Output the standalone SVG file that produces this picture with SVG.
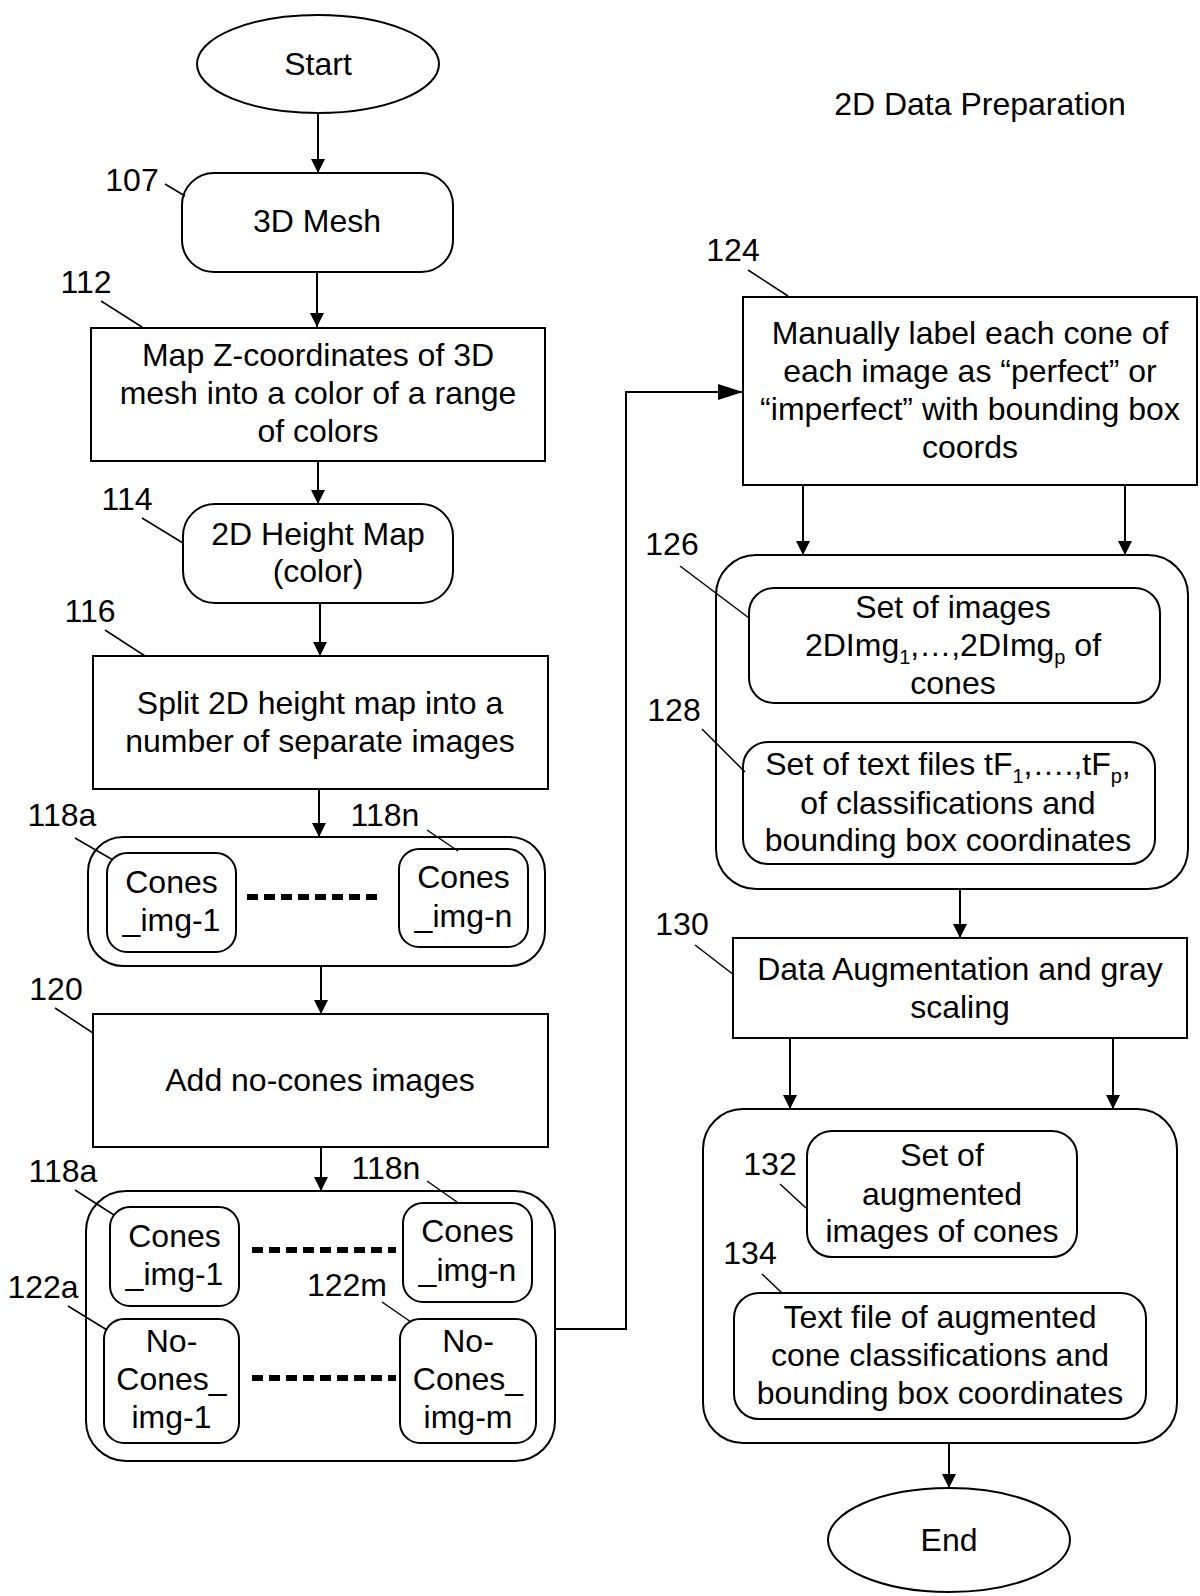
<svg xmlns="http://www.w3.org/2000/svg" width="1200" height="1596" viewBox="0 0 1200 1596">
<style>
.b{fill:#fff;stroke:#000;stroke-width:2}
.t{font-family:"Liberation Sans",Arial,sans-serif;font-size:32px;text-anchor:middle;fill:#000}
.s{font-size:20px}
.ld{stroke:#000;stroke-width:1.5;fill:none}
.c{stroke:#000;stroke-width:2;fill:none}
.dots{stroke:#000;stroke-width:6;stroke-dasharray:11 6;fill:none}
</style>
<defs>
<marker id="ah" markerUnits="userSpaceOnUse" markerWidth="14" markerHeight="14" refX="14" refY="7" orient="auto"><path d="M0,0 L14,7 L0,14 z" fill="#000"/></marker>
<marker id="ahl" markerUnits="userSpaceOnUse" markerWidth="25" markerHeight="16" refX="25" refY="8" orient="auto"><path d="M0,0 L25,8 L0,16 z" fill="#000"/></marker>
</defs>
<rect width="1200" height="1596" fill="#fff"/>
<text class="t" x="980" y="115">2D Data Preparation</text>

<g id="connectors">
<line class="c" x1="318" y1="113" x2="318" y2="173" marker-end="url(#ah)"/>
<line class="c" x1="317" y1="272" x2="317" y2="327" marker-end="url(#ah)"/>
<line class="c" x1="318" y1="461" x2="318" y2="504" marker-end="url(#ah)"/>
<line class="c" x1="320" y1="603" x2="320" y2="656" marker-end="url(#ah)"/>
<line class="c" x1="319" y1="789" x2="319" y2="837" marker-end="url(#ah)"/>
<line class="c" x1="321" y1="966" x2="321" y2="1014" marker-end="url(#ah)"/>
<line class="c" x1="321" y1="1147" x2="321" y2="1191" marker-end="url(#ah)"/>
<polyline class="c" points="555,1329 626,1329 626,392 743,392" marker-end="url(#ahl)"/>
<line class="c" x1="803" y1="485" x2="803" y2="555" marker-end="url(#ah)"/>
<line class="c" x1="1125" y1="485" x2="1125" y2="555" marker-end="url(#ah)"/>
<line class="c" x1="960" y1="889" x2="960" y2="938" marker-end="url(#ah)"/>
<line class="c" x1="790" y1="1038" x2="790" y2="1109" marker-end="url(#ah)"/>
<line class="c" x1="1113" y1="1038" x2="1113" y2="1109" marker-end="url(#ah)"/>
<line class="c" x1="949" y1="1443" x2="949" y2="1488" marker-end="url(#ah)"/>
</g>

<g id="start">
<ellipse class="b" cx="318" cy="64" rx="121" ry="49"/>
<text class="t" x="318" y="75">Start</text>
</g>

<g id="n107">
<rect class="b" x="182" y="173" width="271" height="99" rx="32"/>
<text class="t" x="317" y="232">3D Mesh</text>
<text class="t" x="132" y="191">107</text>
<line class="ld" x1="165" y1="184" x2="185" y2="196"/>
</g>

<g id="n112">
<rect class="b" x="91" y="328" width="454" height="133"/>
<text class="t" x="318" y="366">Map Z-coordinates of 3D</text>
<text class="t" x="318" y="404">mesh into a color of a range</text>
<text class="t" x="318" y="442">of colors</text>
<text class="t" x="86" y="293">112</text>
<line class="ld" x1="101" y1="301" x2="142" y2="327"/>
</g>

<g id="n114">
<rect class="b" x="183" y="504" width="270" height="99" rx="32"/>
<text class="t" x="318" y="545">2D Height Map</text>
<text class="t" x="318" y="582">(color)</text>
<text class="t" x="127" y="510">114</text>
<line class="ld" x1="142" y1="518" x2="183" y2="543"/>
</g>

<g id="n116">
<rect class="b" x="93" y="656" width="455" height="133"/>
<text class="t" x="320" y="714">Split 2D height map into a</text>
<text class="t" x="320" y="752">number of separate images</text>
<text class="t" x="90" y="622">116</text>
<line class="ld" x1="105" y1="630" x2="145" y2="656"/>
</g>

<g id="n118">
<rect class="b" x="88" y="837" width="457" height="129" rx="35"/>
<rect class="b" x="107" y="853" width="129" height="99" rx="20"/>
<text class="t" x="171.5" y="893">Cones</text>
<text class="t" x="171.5" y="931">_img-1</text>
<rect class="b" x="399" y="849" width="129" height="98" rx="20"/>
<text class="t" x="463.5" y="888">Cones</text>
<text class="t" x="463.5" y="927">_img-n</text>
<line class="dots" x1="247" y1="897" x2="378" y2="897"/>
<text class="t" x="62" y="826">118a</text>
<line class="ld" x1="75" y1="838" x2="113" y2="860"/>
<text class="t" x="385" y="826">118n</text>
<line class="ld" x1="427" y1="830" x2="458" y2="851"/>
</g>

<g id="n120">
<rect class="b" x="93" y="1014" width="455" height="133"/>
<text class="t" x="320" y="1091">Add no-cones images</text>
<text class="t" x="56" y="1000">120</text>
<line class="ld" x1="55" y1="1008" x2="93" y2="1033"/>
</g>

<g id="n122">
<rect class="b" x="86" y="1191" width="469" height="270" rx="40"/>
<rect class="b" x="110" y="1207" width="129" height="99" rx="20"/>
<text class="t" x="174.5" y="1247">Cones</text>
<text class="t" x="174.5" y="1285">_img-1</text>
<rect class="b" x="403" y="1203" width="129" height="99" rx="20"/>
<text class="t" x="467.5" y="1242">Cones</text>
<text class="t" x="467.5" y="1281">_img-n</text>
<rect class="b" x="104" y="1319" width="135" height="124" rx="20"/>
<text class="t" x="171.5" y="1352">No-</text>
<text class="t" x="171.5" y="1390">Cones_</text>
<text class="t" x="171.5" y="1428">img-1</text>
<rect class="b" x="400" y="1319" width="136" height="124" rx="20"/>
<text class="t" x="468" y="1352">No-</text>
<text class="t" x="468" y="1390">Cones_</text>
<text class="t" x="468" y="1428">img-m</text>
<line class="dots" x1="252" y1="1250" x2="396" y2="1250"/>
<line class="dots" x1="252" y1="1378" x2="396" y2="1378"/>
<text class="t" x="63" y="1182">118a</text>
<line class="ld" x1="75" y1="1190" x2="114" y2="1215"/>
<text class="t" x="386" y="1179">118n</text>
<line class="ld" x1="427" y1="1181" x2="457" y2="1202"/>
<text class="t" x="43" y="1298">122a</text>
<line class="ld" x1="68" y1="1306" x2="107" y2="1330"/>
<text class="t" x="347" y="1296">122m</text>
<line class="ld" x1="382" y1="1302" x2="411" y2="1322"/>
</g>

<g id="n124">
<rect class="b" x="743" y="297" width="454" height="188"/>
<text class="t" x="970" y="344">Manually label each cone of</text>
<text class="t" x="970" y="382">each image as “perfect” or</text>
<text class="t" x="970" y="420">“imperfect” with bounding box</text>
<text class="t" x="970" y="458">coords</text>
<text class="t" x="733" y="261">124</text>
<line class="ld" x1="748" y1="270" x2="788" y2="296"/>
</g>

<g id="n126">
<rect class="b" x="716" y="555" width="472" height="334" rx="40"/>
<rect class="b" x="749" y="588" width="411" height="115" rx="25"/>
<text class="t" x="953" y="618">Set of images</text>
<text class="t" x="953" y="656">2DImg<tspan class="s" dy="8">1</tspan><tspan dy="-8">,…,2DImg</tspan><tspan class="s" dy="8">p</tspan><tspan dy="-8"> of</tspan></text>
<text class="t" x="953" y="694">cones</text>
<rect class="b" x="743" y="742" width="412" height="122" rx="25"/>
<text class="t" x="948" y="775">Set of text files tF<tspan class="s" dy="8">1</tspan><tspan dy="-8">,….,tF</tspan><tspan class="s" dy="8">p</tspan><tspan dy="-8">,</tspan></text>
<text class="t" x="948" y="814">of classifications and</text>
<text class="t" x="948" y="851">bounding box coordinates</text>
<text class="t" x="672" y="555">126</text>
<line class="ld" x1="680" y1="566" x2="749" y2="618"/>
<text class="t" x="674" y="721">128</text>
<line class="ld" x1="702" y1="729" x2="745" y2="772"/>
</g>

<g id="n130">
<rect class="b" x="733" y="938" width="454" height="100"/>
<text class="t" x="960" y="980">Data Augmentation and gray</text>
<text class="t" x="960" y="1018">scaling</text>
<text class="t" x="682" y="935">130</text>
<line class="ld" x1="695" y1="945" x2="734" y2="975"/>
</g>

<g id="n132">
<rect class="b" x="703" y="1109" width="474" height="334" rx="40"/>
<rect class="b" x="807" y="1131" width="270" height="126" rx="25"/>
<text class="t" x="942" y="1166">Set of</text>
<text class="t" x="942" y="1205">augmented</text>
<text class="t" x="942" y="1242">images of cones</text>
<rect class="b" x="734" y="1293" width="412" height="126" rx="25"/>
<text class="t" x="940" y="1328">Text file of augmented</text>
<text class="t" x="940" y="1366">cone classifications and</text>
<text class="t" x="940" y="1404">bounding box coordinates</text>
<text class="t" x="770" y="1175">132</text>
<line class="ld" x1="780" y1="1184" x2="806" y2="1208"/>
<text class="t" x="750" y="1264">134</text>
<line class="ld" x1="762" y1="1274" x2="782" y2="1293"/>
</g>

<g id="end">
<ellipse class="b" cx="949" cy="1540" rx="121" ry="52"/>
<text class="t" x="949" y="1551">End</text>
</g>
</svg>
